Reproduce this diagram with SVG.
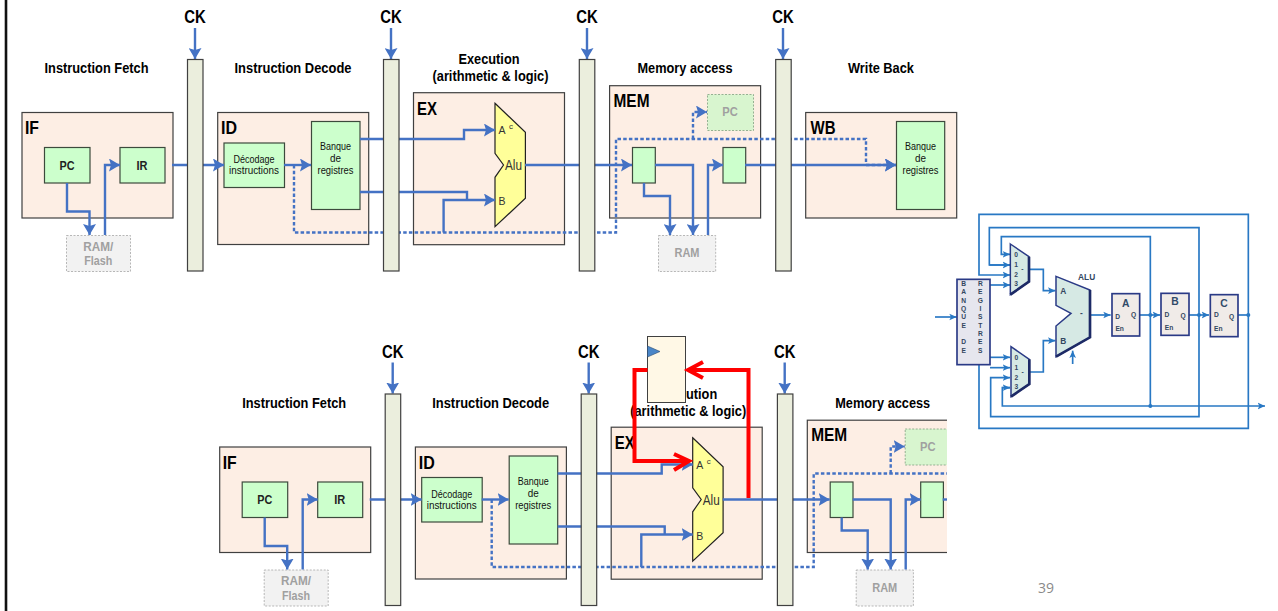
<svg xmlns="http://www.w3.org/2000/svg" width="1278" height="611" viewBox="0 0 1278 611">
<style>
text{font-family:"Liberation Sans",Arial,sans-serif;text-anchor:middle;fill:#000;}
.stage{fill:#fdeee4;stroke:#404040;stroke-width:1.2;}
.box{fill:#ccffcc;stroke:#3c4a3c;stroke-width:1.2;}
.ghostg{fill:#d8f5cf;stroke:#7f9f7f;stroke-width:.8;stroke-dasharray:2 1.5;}
.ghost{fill:#f2f2f2;stroke:#a6a6a6;stroke-width:.8;stroke-dasharray:2 1.5;}
.latch{fill:#ebeedd;stroke:#404040;stroke-width:1.2;}
.alu{fill:#ffff99;stroke:#222;stroke-width:1.2;}
.w{fill:none;stroke:#4472c4;stroke-width:2.4;}
.wa{fill:none;stroke:#4472c4;stroke-width:2.4;marker-end:url(#ah);}
.d{fill:none;stroke:#4472c4;stroke-width:2.4;stroke-dasharray:3.5 2.2;}
.da{fill:none;stroke:#4472c4;stroke-width:2.4;stroke-dasharray:3.5 2.2;marker-end:url(#ah);}
.red{fill:none;stroke:#ff0000;stroke-width:4;}
.h{font-size:15.500px;font-weight:bold;}
.ck{font-size:18.500px;font-weight:bold;}
.st{font-size:18.500px;font-weight:bold;}
.m{font-size:12.500px;font-weight:bold;fill:#222;}
.s{font-size:10.500px;fill:#111;}
.g{font-size:13px;font-weight:bold;fill:#a0a0a0;}
.a{font-size:10.500px;fill:#333;}
.r{fill:none;stroke:#2878c4;stroke-width:5;}
.ra{fill:none;stroke:#2878c4;stroke-width:5;marker-end:url(#rh);}
.mux{fill:#d6e9e4;stroke:#2a3a86;stroke-width:4.500;}
.shade{fill:none;stroke:#1d2a66;stroke-width:8;}
.rg{fill:#f0ebe8;stroke:#2a3a86;stroke-width:5;}
.rt{font-size:20px;font-weight:bold;fill:#33475f;}
.rb{font-size:31px;font-weight:bold;fill:#2f4a68;}
</style>
<defs>
<marker id="ah" markerUnits="userSpaceOnUse" markerWidth="13" markerHeight="13" refX="11" refY="6.500" orient="auto"><path d="M0 0L11 6.500L0 13L2 6.500Z" fill="#4472c4"/></marker>
<marker id="rh" markerUnits="userSpaceOnUse" markerWidth="24" markerHeight="24" refX="22" refY="12" orient="auto"><path d="M0 2L22 12L0 22L5 12Z" fill="#2878c4"/></marker>
<clipPath id="cut"><rect x="190" y="330" width="757" height="281"/></clipPath>
</defs>
<rect width="1278" height="611" fill="#fff"/>
<rect id="page-edge" x="4.700" y="0" width="2.600" height="611" fill="#111"/>

<g id="top-pipeline">
<text class="h" x="96.500" y="73" textLength="104" lengthAdjust="spacingAndGlyphs">Instruction Fetch</text>
<text class="h" x="293" y="73" textLength="117" lengthAdjust="spacingAndGlyphs">Instruction Decode</text>
<text class="h" x="489" y="64" textLength="61" lengthAdjust="spacingAndGlyphs">Execution</text>
<text class="h" x="490.500" y="81" textLength="116" lengthAdjust="spacingAndGlyphs">(arithmetic &amp; logic)</text>
<text class="h" x="685" y="73" textLength="95" lengthAdjust="spacingAndGlyphs">Memory access</text>
<text class="h" x="881" y="73" textLength="66" lengthAdjust="spacingAndGlyphs">Write Back</text>
<g id="t-if"><rect class="stage" x="22" y="112.500" width="151" height="105.500"/><text class="st" x="32" y="134" textLength="14" lengthAdjust="spacingAndGlyphs">IF</text></g>
<g id="t-id"><rect class="stage" x="217.700" y="112.500" width="151" height="132"/><text class="st" x="229" y="134" textLength="16" lengthAdjust="spacingAndGlyphs">ID</text></g>
<g id="t-ex"><rect class="stage" x="413.500" y="92.700" width="151" height="152"/><text class="st" x="427" y="114.500" textLength="20" lengthAdjust="spacingAndGlyphs">EX</text></g>
<g id="t-mem"><rect class="stage" x="609.600" y="85.700" width="151" height="132.300"/><text class="st" x="631.500" y="106.700" textLength="36" lengthAdjust="spacingAndGlyphs">MEM</text></g>
<g id="t-wb"><rect class="stage" x="805.700" y="112.500" width="151" height="105.500"/><text class="st" x="823" y="134" textLength="25" lengthAdjust="spacingAndGlyphs">WB</text></g>
<g id="t-pc"><rect class="box" x="44.500" y="147.500" width="45.500" height="35.500"/><text class="m" x="67" y="169.500" textLength="15" lengthAdjust="spacingAndGlyphs">PC</text></g>
<g id="t-ir"><rect class="box" x="120" y="147.500" width="45" height="35.500"/><text class="m" x="142" y="169.500" textLength="11" lengthAdjust="spacingAndGlyphs">IR</text></g>
<g id="t-ramflash"><rect class="ghost" x="66.500" y="235.500" width="64" height="36"/><text class="g" x="98.300" y="250.500" textLength="30" lengthAdjust="spacingAndGlyphs">RAM/</text><text class="g" x="98.300" y="265" textLength="28" lengthAdjust="spacingAndGlyphs">Flash</text></g>
<g id="t-dec"><rect class="box" x="224" y="143" width="60.500" height="44.500"/><text class="s" x="254" y="163" textLength="41" lengthAdjust="spacingAndGlyphs">Décodage</text><text class="s" x="254" y="174" textLength="50" lengthAdjust="spacingAndGlyphs">instructions</text></g>
<g id="t-bank"><rect class="box" x="311.500" y="121.500" width="48.500" height="88"/><text class="s" x="335.500" y="150" textLength="31" lengthAdjust="spacingAndGlyphs">Banque</text><text class="s" x="335.500" y="162" textLength="11" lengthAdjust="spacingAndGlyphs">de</text><text class="s" x="335.500" y="174" textLength="36" lengthAdjust="spacingAndGlyphs">registres</text></g>
<g id="t-alu"><polygon class="alu" points="495,103.300 525.400,132.300 525.400,198.300 495,226.700 495,177.300 503.500,165 495,153.300"/><text class="a" x="502" y="134">A</text><text class="a" x="511" y="129" style="font-size:8px">c</text><text class="a" x="513.500" y="170" style="font-size:14.500px" textLength="17" lengthAdjust="spacingAndGlyphs">Alu</text><text class="a" x="502" y="205">B</text></g>
<g id="t-pcg"><rect class="ghostg" x="707.500" y="94.500" width="46" height="36"/><text class="g" x="730" y="116" textLength="15.500" lengthAdjust="spacingAndGlyphs">PC</text></g>
<g id="t-r1"><rect class="box" x="632.500" y="147.500" width="22.800" height="35.500"/></g>
<g id="t-r2"><rect class="box" x="723" y="147.500" width="22.700" height="35.500"/></g>
<g id="t-ram"><rect class="ghost" x="658.500" y="235.500" width="57.200" height="36"/><text class="g" x="687" y="257" textLength="25" lengthAdjust="spacingAndGlyphs">RAM</text></g>
<g id="t-bank2"><rect class="box" x="896.500" y="121.500" width="48.200" height="88"/><text class="s" x="920.500" y="150" textLength="31" lengthAdjust="spacingAndGlyphs">Banque</text><text class="s" x="920.500" y="162" textLength="11" lengthAdjust="spacingAndGlyphs">de</text><text class="s" x="920.500" y="174" textLength="36" lengthAdjust="spacingAndGlyphs">registres</text></g>
<g id="t-connectors">
<path class="wa" d="M67 183V211.500H89.500V235"/>
<path class="wa" d="M105 235V165H120"/>
<path class="wa" d="M172 165H224"/>
<path class="wa" d="M284 165H311"/>
<path class="d" d="M294 165V232.500H616V139H866V165"/>
<path class="da" d="M693 139V112H707"/>
<path class="da" d="M866 165H896"/>
<path class="wa" d="M360 139H464V130H495"/>
<path class="w" d="M360 192H467V200"/>
<path class="wa" d="M443.600 232.500V200H495"/>
<path class="wa" d="M525 165H632"/>
<path class="wa" d="M655 165H693V235"/>
<path class="wa" d="M644 183V196H670V235"/>
<path class="wa" d="M708 235V165H723"/>
<path class="wa" d="M745 165H896"/>
<path class="wa" d="M195 28V59"/><path class="wa" d="M391 28V59"/><path class="wa" d="M587 28V59"/><path class="wa" d="M783 28V59"/>
</g>
<g id="t-latch1"><rect class="latch" x="187.500" y="59.500" width="15.500" height="211.500"/><text class="ck" x="195" y="23" textLength="21.500" lengthAdjust="spacingAndGlyphs">CK</text></g>
<g id="t-latch2"><rect class="latch" x="383.500" y="59.500" width="15.500" height="211.500"/><text class="ck" x="391" y="23" textLength="21.500" lengthAdjust="spacingAndGlyphs">CK</text></g>
<g id="t-latch3"><rect class="latch" x="579.300" y="59.500" width="15.500" height="211.500"/><text class="ck" x="587" y="23" textLength="21.500" lengthAdjust="spacingAndGlyphs">CK</text></g>
<g id="t-latch4"><rect class="latch" x="775.700" y="59.500" width="15.500" height="211.500"/><text class="ck" x="783" y="23" textLength="21.500" lengthAdjust="spacingAndGlyphs">CK</text></g>
</g>

<g id="bottom-pipeline" clip-path="url(#cut)">
<g transform="translate(197.700 334.500)">
<text class="h" x="96.500" y="73" textLength="104" lengthAdjust="spacingAndGlyphs">Instruction Fetch</text>
<text class="h" x="293" y="73" textLength="117" lengthAdjust="spacingAndGlyphs">Instruction Decode</text>
<text class="h" x="489" y="64" textLength="61" lengthAdjust="spacingAndGlyphs">Execution</text>
<text class="h" x="490.500" y="81" textLength="116" lengthAdjust="spacingAndGlyphs">(arithmetic &amp; logic)</text>
<text class="h" x="685" y="73" textLength="95" lengthAdjust="spacingAndGlyphs">Memory access</text>
<g id="b-if"><rect class="stage" x="22" y="112.500" width="151" height="105.500"/><text class="st" x="32" y="134" textLength="14" lengthAdjust="spacingAndGlyphs">IF</text></g>
<g id="b-id"><rect class="stage" x="217.700" y="112.500" width="151" height="132"/><text class="st" x="229" y="134" textLength="16" lengthAdjust="spacingAndGlyphs">ID</text></g>
<g id="b-ex"><rect class="stage" x="413.500" y="92.700" width="151" height="152"/><text class="st" x="427" y="114.500" textLength="20" lengthAdjust="spacingAndGlyphs">EX</text></g>
<g id="b-mem"><rect class="stage" x="609.600" y="85.700" width="151" height="132.300"/><text class="st" x="631.500" y="106.700" textLength="36" lengthAdjust="spacingAndGlyphs">MEM</text></g>
<g id="b-pc"><rect class="box" x="44.500" y="147.500" width="45.500" height="35.500"/><text class="m" x="67" y="169.500" textLength="15" lengthAdjust="spacingAndGlyphs">PC</text></g>
<g id="b-ir"><rect class="box" x="120" y="147.500" width="45" height="35.500"/><text class="m" x="142" y="169.500" textLength="11" lengthAdjust="spacingAndGlyphs">IR</text></g>
<g id="b-ramflash"><rect class="ghost" x="66.500" y="235.500" width="64" height="36"/><text class="g" x="98.300" y="250.500" textLength="30" lengthAdjust="spacingAndGlyphs">RAM/</text><text class="g" x="98.300" y="265" textLength="28" lengthAdjust="spacingAndGlyphs">Flash</text></g>
<g id="b-dec"><rect class="box" x="224" y="143" width="60.500" height="44.500"/><text class="s" x="254" y="163" textLength="41" lengthAdjust="spacingAndGlyphs">Décodage</text><text class="s" x="254" y="174" textLength="50" lengthAdjust="spacingAndGlyphs">instructions</text></g>
<g id="b-bank"><rect class="box" x="311.500" y="121.500" width="48.500" height="88"/><text class="s" x="335.500" y="150" textLength="31" lengthAdjust="spacingAndGlyphs">Banque</text><text class="s" x="335.500" y="162" textLength="11" lengthAdjust="spacingAndGlyphs">de</text><text class="s" x="335.500" y="174" textLength="36" lengthAdjust="spacingAndGlyphs">registres</text></g>
<g id="b-alu"><polygon class="alu" points="495,103.300 525.400,132.300 525.400,198.300 495,226.700 495,177.300 503.500,165 495,153.300"/><text class="a" x="502" y="134">A</text><text class="a" x="511" y="129" style="font-size:8px">c</text><text class="a" x="513.500" y="170" style="font-size:14.500px" textLength="17" lengthAdjust="spacingAndGlyphs">Alu</text><text class="a" x="502" y="205">B</text></g>
<g id="b-pcg"><rect class="ghostg" x="707.500" y="94.500" width="46" height="36"/><text class="g" x="730" y="116" textLength="15.500" lengthAdjust="spacingAndGlyphs">PC</text></g>
<g id="b-r1"><rect class="box" x="632.500" y="147.500" width="22.800" height="35.500"/></g>
<g id="b-r2"><rect class="box" x="723" y="147.500" width="22.700" height="35.500"/></g>
<g id="b-ram"><rect class="ghost" x="658.500" y="235.500" width="57.200" height="36"/><text class="g" x="687" y="257" textLength="25" lengthAdjust="spacingAndGlyphs">RAM</text></g>
<g id="b-connectors">
<path class="wa" d="M67 183V211.500H89.500V235"/>
<path class="wa" d="M105 235V165H120"/>
<path class="wa" d="M172 165H224"/>
<path class="wa" d="M284 165H311"/>
<path class="d" d="M294 165V232.500H616V139H760"/>
<path class="da" d="M693 139V112H707"/>
<path class="wa" d="M360 139H464V130H495"/>
<path class="w" d="M360 192H467V200"/>
<path class="wa" d="M443.600 232.500V200H495"/>
<path class="wa" d="M525 165H632"/>
<path class="wa" d="M655 165H693V235"/>
<path class="wa" d="M644 183V196H670V235"/>
<path class="wa" d="M708 235V165H723"/>
<path class="w" d="M745 165H760"/>
<path class="wa" d="M195 28V59"/><path class="wa" d="M391 28V59"/><path class="wa" d="M587 28V59"/>
</g>
<g id="b-latch1"><rect class="latch" x="187.500" y="59.500" width="15.500" height="211.500"/><text class="ck" x="195" y="23" textLength="21.500" lengthAdjust="spacingAndGlyphs">CK</text></g>
<g id="b-latch2"><rect class="latch" x="383.500" y="59.500" width="15.500" height="211.500"/><text class="ck" x="391" y="23" textLength="21.500" lengthAdjust="spacingAndGlyphs">CK</text></g>
<g id="b-latch3"><rect class="latch" x="579.700" y="59.500" width="15.500" height="211.500"/><text class="ck" x="587" y="23" textLength="21.500" lengthAdjust="spacingAndGlyphs">CK</text></g>
</g>
</g>

<g id="forward-register"><rect x="647.500" y="336.500" width="38" height="66" fill="#fff8e6" stroke="#404040" stroke-width="1"/><polygon points="647.500,346 660,351.500 647.500,357" fill="#4a86c8" stroke="#2a4a70" stroke-width=".6"/></g>
<g id="forward-connectors">
<path class="red" d="M647.500 370H634.500V461H688"/>
<path class="red" d="M674 454L689 461L674 470"/>
<path class="red" d="M748.500 498V370H688"/>
<path class="red" d="M703 362L688 370L703 378"/>
</g>

<g id="alu-datapath" transform="translate(930 200) scale(.33333)">
<g id="r-connectors">
<path class="ra" d="M147 495V685H955V43H147V225H240"/>
<path class="r" d="M924 345H960"/>
<path class="ra" d="M240 195H178V83H807V650H182V533H240" style="marker-end:url(#rh);marker-start:none"/>
<path class="ra" d="M178 195H240"/>
<path class="ra" d="M661 618V110H214V163H240"/>
<path class="ra" d="M240 563H217V618H1005"/>
<path class="ra" d="M217 563H240"/>
<path class="ra" d="M180 255H240"/>
<path class="ra" d="M180 472H240"/>
<path class="ra" d="M180 503H240"/>
<path class="ra" d="M297 208H340V272H376"/>
<path class="ra" d="M298 516H340V422H376"/>
<path class="ra" d="M428 492V452"/>
<path class="ra" d="M15 351H80"/>
<path class="ra" d="M480 345H542"/>
<path class="ra" d="M629 345H690"/>
<path class="ra" d="M777 345H837"/>
<circle cx="661" cy="345" r="6" fill="#2878c4"/><circle cx="661" cy="618" r="6" fill="#2878c4"/><circle cx="807" cy="345" r="6" fill="#2878c4"/><circle cx="955" cy="345" r="6" fill="#2878c4"/>
</g>
<g id="r-bank"><rect x="81" y="238" width="99" height="256" fill="#e6e6ee" stroke="#2a3a86" stroke-width="5"/>
<text class="rt" x="101" y="258">B</text><text class="rt" x="101" y="283">A</text><text class="rt" x="101" y="308">N</text><text class="rt" x="101" y="333">Q</text><text class="rt" x="101" y="358">U</text><text class="rt" x="101" y="383">E</text><text class="rt" x="101" y="433">D</text><text class="rt" x="101" y="458">E</text>
<text class="rt" x="151" y="258">R</text><text class="rt" x="151" y="283">E</text><text class="rt" x="151" y="308">G</text><text class="rt" x="151" y="333">I</text><text class="rt" x="151" y="358">S</text><text class="rt" x="151" y="383">T</text><text class="rt" x="151" y="408">R</text><text class="rt" x="151" y="433">E</text><text class="rt" x="151" y="458">S</text></g>
<g id="r-mux1"><polygon class="mux" points="241,132 297,170 297,245 241,284"/><path class="shade" d="M297 170V245L241 284"/><text class="rt" x="258" y="170">0</text><text class="rt" x="258" y="201">1</text><text class="rt" x="258" y="232">2</text><text class="rt" x="258" y="259">3</text><text class="rt" x="277" y="214">-</text></g>
<g id="r-mux2"><polygon class="mux" points="243,440 298,478 298,552 243,590"/><path class="shade" d="M298 478V552L243 590"/><text class="rt" x="259" y="479">0</text><text class="rt" x="259" y="510">1</text><text class="rt" x="259" y="540">2</text><text class="rt" x="259" y="567">3</text><text class="rt" x="278" y="522">-</text></g>
<g id="r-alu"><polygon class="mux" points="378,229 480,270 480,412 378,470 378,378 423,340 378,316"/><path class="shade" d="M480 270V412L378 470"/><text class="rt" x="400" y="281" style="font-size:25px">A</text><text class="rt" x="400" y="431" style="font-size:25px">B</text><text class="rt" x="454" y="347" style="font-size:25px">-</text><text class="rt" x="470" y="241" style="font-size:25px">ALU</text></g>
<g id="r-a"><rect class="rg" x="546" y="281" width="83" height="127"/><text class="rb" x="587" y="320">A</text><text class="rt" x="563" y="356">D</text><text class="rt" x="611" y="352">Q</text><text class="rt" x="569" y="393">En</text></g>
<g id="r-b"><rect class="rg" x="693" y="280" width="84" height="126"/><text class="rb" x="735" y="316">B</text><text class="rt" x="711" y="352">D</text><text class="rt" x="759" y="354">Q</text><text class="rt" x="717" y="391">En</text></g>
<g id="r-c"><rect class="rg" x="841" y="284" width="83" height="126"/><text class="rb" x="882" y="320">C</text><text class="rt" x="859" y="352">D</text><text class="rt" x="905" y="357">Q</text><text class="rt" x="865" y="394">En</text></g>
</g>
<text id="page-number" x="1046" y="593" style="font-size:14px;fill:#8a8a8a;font-family:'Open Sans','Liberation Sans',sans-serif">39</text>
</svg>
